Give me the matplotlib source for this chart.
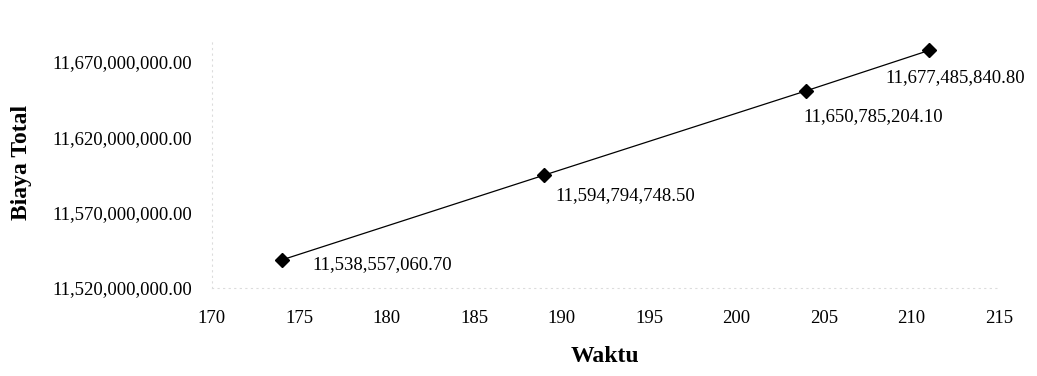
import matplotlib
matplotlib.use("Agg")
import matplotlib.pyplot as plt
from matplotlib.ticker import FuncFormatter

# Waktu (days) vs total cost
waktu = [174, 189, 204, 211]
biaya_total = [11538557060.70, 11594794748.50, 11650785204.10, 11677485840.80]

x_ticks = [170, 175, 180, 185, 190, 195, 200, 205, 210, 215]
y_ticks = [11520000000.00, 11570000000.00, 11620000000.00, 11670000000.00]

# per-label offsets (pixels) of the value labels from their points
label_offsets = [(31, -5), (11, -20), (-3, -26), (-44, -27)]

plt.rcParams["font.family"] = ["Liberation Serif", "DejaVu Serif"]

fig = plt.figure(figsize=(10.37, 3.76), dpi=100)
ax = fig.add_axes([0.204, 0.234, 0.7593, 0.662])

ax.plot(waktu, biaya_total, color="black", lw=0.9, marker="D",
        markersize=7.5, markerfacecolor="black", markeredgecolor="black",
        clip_on=False, zorder=3)

for xv, yv, (dx, dy) in zip(waktu, biaya_total, label_offsets):
    ax.annotate(f"{yv:,.2f}", (xv, yv), xytext=(dx, dy),
                textcoords="offset pixels", ha="left", va="center",
                fontsize=13.5, color="black")

ax.set_xlim(170, 215)
ax.set_ylim(11520000000.00, 11685000000.00)
ax.set_xticks(x_ticks)
ax.set_yticks(y_ticks)
ax.yaxis.set_major_formatter(FuncFormatter(lambda v, p: f"{v:,.2f}"))

ax.tick_params(axis="both", length=0, labelsize=13.5, colors="black")
ax.tick_params(axis="x", pad=16)
ax.tick_params(axis="y", pad=14)

for side in ("top", "right"):
    ax.spines[side].set_visible(False)
for side in ("left", "bottom"):
    ax.spines[side].set_color("#dcdcdc")
    ax.spines[side].set_linestyle((0, (1, 4)))
    ax.spines[side].set_linewidth(0.8)

fig.text(605 / 1037, 1 - 357 / 376, "Waktu", ha="center", va="center",
         fontsize=17, fontweight="bold")
fig.text(22 / 1037, 1 - 162 / 376, "Biaya Total", ha="center", va="center",
         rotation=90, fontsize=17, fontweight="bold")

fig.savefig("out.png", dpi=100, facecolor="white")
